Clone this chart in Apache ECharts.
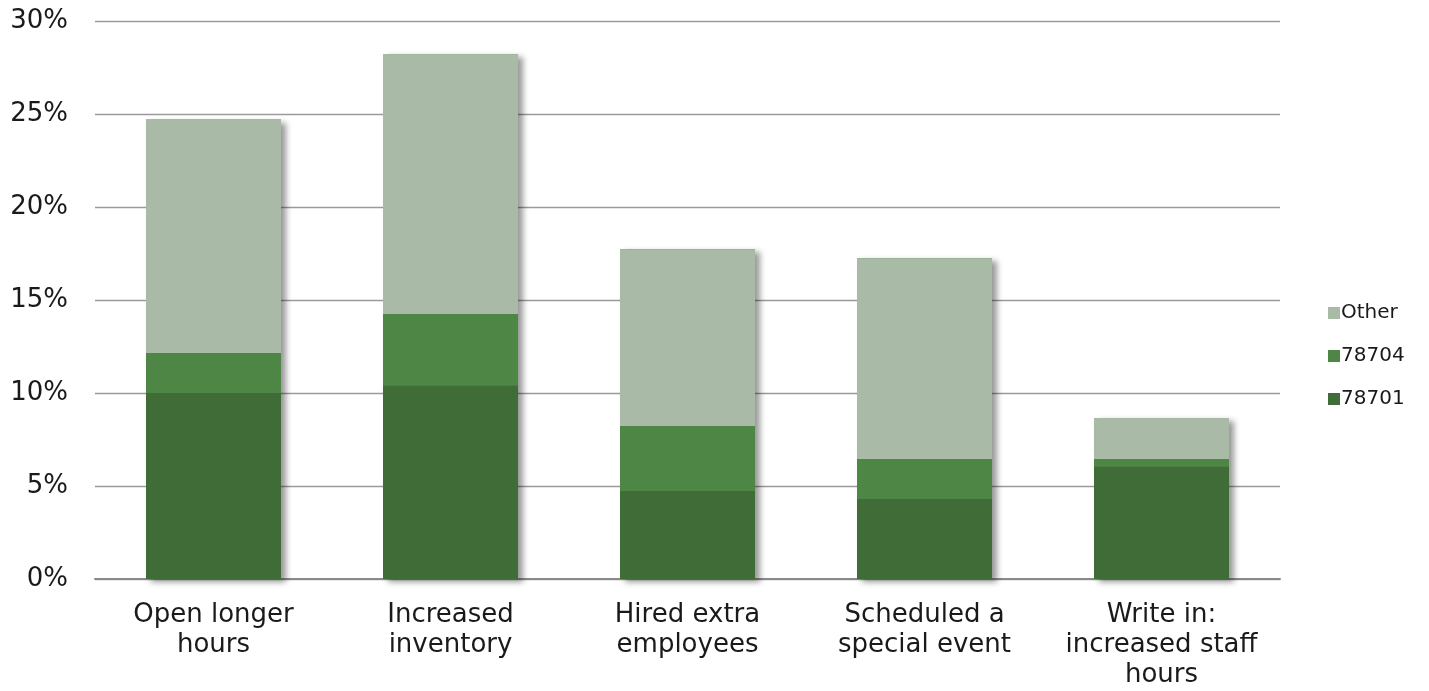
<!DOCTYPE html>
<html>
<head>
<meta charset="utf-8">
<script src="https://cdn.jsdelivr.net/npm/echarts@6/dist/echarts.min.js"></script>
<style>
  html, body { margin: 0; padding: 0; background: #ffffff; }
  #chart { width: 1429px; height: 691px; }
</style>
</head>
<body>
<div id="chart"></div>
<script>
// Share of businesses taking each action, by zip code (stacked)
const categories = [
  'Open longer\nhours',
  'Increased\ninventory',
  'Hired extra\nemployees',
  'Scheduled a\nspecial event',
  'Write in:\nincreased staff\nhours'
];
const zip78701 = [10.0, 10.4, 4.73, 4.3, 6.05];
const zip78704 = [2.15, 3.85, 3.5, 2.15, 0.4];
const other    = [12.55, 13.95, 9.5, 10.8, 2.2];
const yTicks = [0, 5, 10, 15, 20, 25, 30];

// Column totals: used only for a backing bar that casts the drop shadow
const totals = categories.map((_, i) => zip78701[i] + zip78704[i] + other[i]);

const FONT = '"DejaVu Sans", Verdana, sans-serif';
const BAR_W = 135;

function stackSeries(name, data, color) {
  return {
    name: name,
    type: 'bar',
    stack: 'total',
    barWidth: BAR_W,
    z: 3,
    data: data,
    itemStyle: { color: color }
  };
}

const chart = echarts.init(document.getElementById('chart'), null, { renderer: 'canvas' });
chart.setOption({
  animation: false,
  backgroundColor: '#ffffff',
  grid: { left: 95, right: 149, top: 21, bottom: 112, containLabel: false },
  legend: {
    orient: 'vertical',
    left: 1323,
    top: 298,
    itemWidth: 12,
    itemHeight: 12,
    itemGap: 23,
    icon: 'rect',
    data: ['Other', '78704', '78701'],
    textStyle: { fontFamily: FONT, fontSize: 20, lineHeight: 20, color: '#1a1a1a', padding: [0, 0, 0, -4] }
  },
  xAxis: {
    type: 'category',
    data: categories,
    axisLine: { show: true, lineStyle: { color: '#8a8a8a', width: 2 } },
    axisTick: { show: false },
    axisLabel: {
      fontFamily: FONT,
      fontSize: 26,
      lineHeight: 30,
      color: '#1a1a1a',
      margin: 21,
      interval: 0
    }
  },
  yAxis: {
    type: 'value',
    min: yTicks[0],
    max: yTicks[yTicks.length - 1],
    interval: 5,
    axisLine: { show: false },
    axisTick: { show: false },
    splitLine: { lineStyle: { color: '#9a9a9a', width: 1.3 } },
    axisLabel: {
      fontFamily: FONT,
      fontSize: 26,
      color: '#1a1a1a',
      margin: 27,
      formatter: v => v + '%'
    }
  },
  series: [
    stackSeries('78701', zip78701, '#406c37'),
    stackSeries('78704', zip78704, '#4e8645'),
    stackSeries('Other', other, '#a9baa6'),
    {
      // backing column under each stack; fills sub-pixel seams and casts the shadow
      name: 'shadow',
      type: 'bar',
      barWidth: BAR_W,
      barGap: '-100%',
      z: 2,
      silent: true,
      data: totals,
      itemStyle: {
        color: '#4e8645',
        shadowColor: 'rgba(0,0,0,0.4)',
        shadowBlur: 6,
        shadowOffsetX: 5,
        shadowOffsetY: 3
      }
    }
  ]
});
</script>
</body>
</html>
